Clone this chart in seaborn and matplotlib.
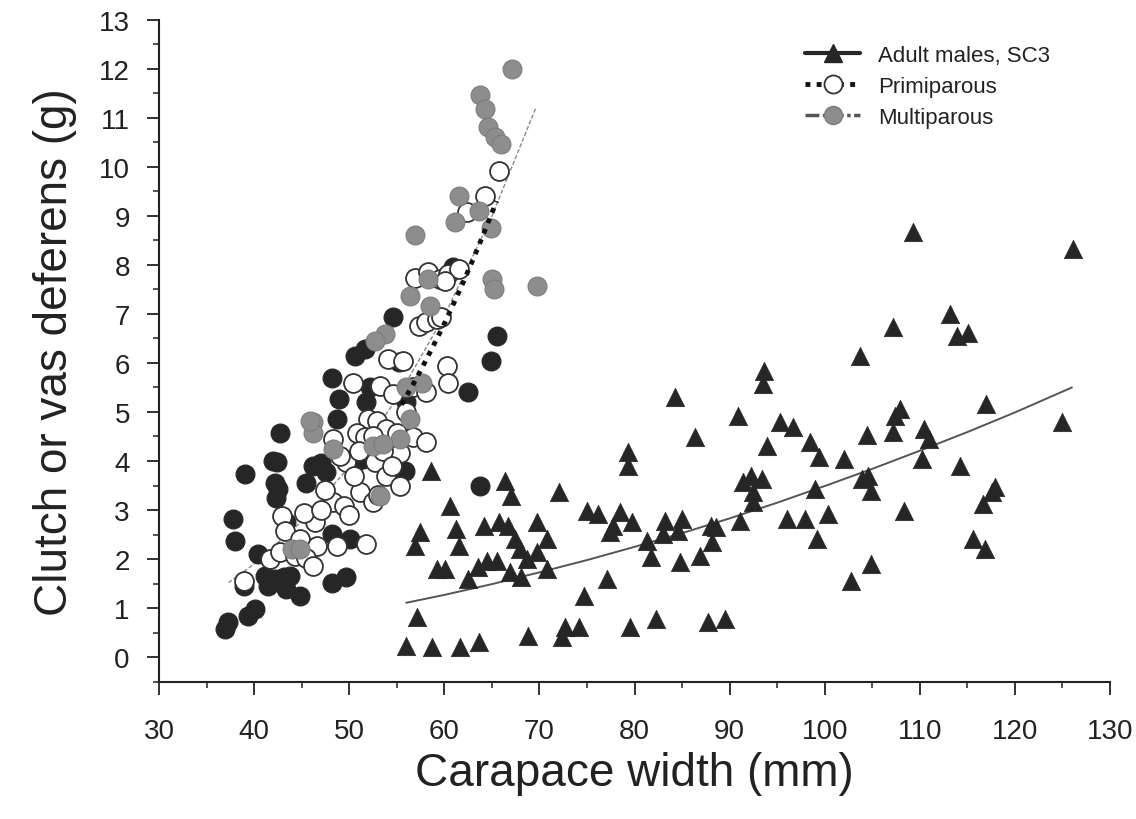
import numpy as np
import pandas as pd
import matplotlib
matplotlib.use("Agg")
import matplotlib.pyplot as plt
from matplotlib.lines import Line2D
from matplotlib.ticker import MultipleLocator
import seaborn as sns

# ---------------- data ----------------
male_cw = [56.0, 57.1, 58.7, 61.7, 63.6, 68.8, 72.7, 72.4, 74.2, 79.5, 82.3, 87.7, 89.5, 74.7, 77.1,
           58.6, 66.4, 67.0, 72.1, 60.6, 57.4, 56.9, 61.2, 61.5, 64.2, 65.75, 66.7, 69.7, 67.4, 68.0,
           70.8, 69.7, 68.7, 70.8, 59.2, 60.1, 62.5, 63.5, 64.5, 65.5, 66.9, 68.1, 75.0, 76.2, 78.5,
           77.7, 79.7, 77.4, 79.3, 79.3, 81.3, 81.7, 83.2, 85.0, 83.0, 84.6, 84.3, 86.4, 84.8, 86.9,
           88.0, 88.6, 88.1, 91.1, 90.9, 92.3, 91.4, 93.4, 92.5, 92.5, 93.6, 93.5, 93.9, 95.3, 96.7,
           96.0, 97.9, 98.5, 99.4, 99.0, 99.2, 100.3, 102.0, 102.8, 103.7, 104.4, 104.6, 103.9, 104.9,
           104.9, 107.2, 107.2, 107.9, 107.4, 108.3, 109.3, 110.2, 110.4, 111.0, 113.2, 113.9, 115.1,
           114.2, 115.6, 116.9, 117.0, 116.6, 117.6, 117.9, 125.0, 126.1]
male_wt = [0.23, 0.82, 0.20, 0.20, 0.31, 0.43, 0.61, 0.41, 0.61, 0.61, 0.78, 0.71, 0.78, 1.25, 1.59,
           3.80, 3.60, 3.29, 3.37, 3.09, 2.55, 2.27, 2.61, 2.27, 2.68, 2.75, 2.68, 2.76, 2.41, 2.20,
           2.41, 2.14, 2.00, 1.79, 1.79, 1.79, 1.59, 1.84, 1.96, 1.96, 1.73, 1.63, 2.98, 2.92, 2.96,
           2.67, 2.75, 2.55, 4.18, 3.90, 2.37, 2.04, 2.78, 2.81, 2.51, 2.58, 5.30, 4.49, 1.94, 2.07,
           2.68, 2.65, 2.35, 2.78, 4.92, 3.70, 3.57, 3.63, 3.37, 3.16, 5.84, 5.57, 4.30, 4.79, 4.69,
           2.81, 2.81, 4.39, 4.08, 3.43, 2.41, 2.92, 4.04, 1.56, 6.14, 4.53, 3.69, 3.63, 3.39,
           1.90, 6.73, 4.59, 5.06, 4.92, 2.98, 8.66, 4.04, 4.65, 4.45, 7.00, 6.55, 6.62,
           3.90, 2.41, 2.20, 5.16, 3.12, 3.37, 3.47, 4.80, 8.32]

other_cw = [64.9, 65.5, 62.5, 48.2, 48.9, 52.2, 51.8, 55.2, 48.7, 42.7, 42.4, 42.0, 39.0, 42.2, 42.5,
            42.3, 45.5, 46.2, 47.6, 50.4, 51.5, 54.3, 55.9, 63.8, 37.8, 38.0, 43.4, 48.2, 50.1, 40.4,
            41.1, 42.2, 43.1, 43.8, 41.5, 43.4, 44.8, 38.9, 48.2, 49.7, 37.3, 36.9, 39.4, 40.1, 60.9,
            54.6, 50.6, 51.7, 56.0, 47.0]
other_wt = [6.04, 6.55, 5.40, 5.70, 5.26, 5.50, 5.20, 6.01, 4.85, 4.58, 3.97, 4.00, 3.73, 3.56, 3.43,
            3.25, 3.56, 3.90, 3.77, 3.90, 4.04, 3.83, 3.80, 3.49, 2.81, 2.37, 2.75, 2.51, 2.41, 2.10,
            1.66, 1.59, 1.63, 1.66, 1.45, 1.39, 1.25, 1.45, 1.52, 1.63, 0.71, 0.57, 0.84, 0.98, 7.95,
            6.93, 6.15, 6.28, 5.20, 3.95]

primi_cw = [65.7, 64.3, 62.4, 56.9, 58.3, 59.5, 60.4, 61.5, 60.1, 57.3, 58.1, 59.2, 59.7,
            54.1, 55.7, 60.3, 60.4, 50.4, 53.2, 54.6, 56.7, 58.1,
            52.0, 52.9, 53.9, 55.0, 50.8, 51.7, 52.5, 48.3, 56.7, 58.1, 54.6, 55.3, 52.7, 49.7, 53.9,
            55.3, 51.1, 52.5, 48.3, 49.4, 46.4, 45.2, 42.9, 43.2, 44.8, 46.6, 48.7, 51.8, 41.7, 42.7,
            44.3, 45.5, 38.9, 46.2, 47.5, 50.5, 49.0, 53.5, 56.0, 51.0, 47.0, 50.0, 53.0, 54.5]
primi_wt = [9.92, 9.41, 9.07, 7.74, 7.85, 7.71, 7.81, 7.91, 7.68, 6.76, 6.83, 6.89, 6.93,
            6.08, 6.04, 5.94, 5.60, 5.60, 5.53, 5.36, 5.50, 5.40,
            4.85, 4.82, 4.65, 4.58, 4.58, 4.48, 4.51, 4.45, 4.48, 4.38, 4.24, 4.17, 3.97, 3.97, 3.70,
            3.49, 3.36, 3.16, 3.16, 3.09, 2.75, 2.95, 2.88, 2.58, 2.41, 2.27, 2.27, 2.30, 2.00, 2.14,
            2.07, 2.03, 1.56, 1.86, 3.40, 3.70, 4.10, 4.20, 5.00, 4.20, 3.00, 2.90, 3.30, 3.90]

multi_cw = [67.1, 63.8, 64.3, 64.6, 65.3, 66.0, 61.5, 61.1, 63.6, 64.9, 56.9, 65.0, 65.2, 69.7,
            58.3, 56.4, 58.5, 53.8, 52.7, 57.6, 56.4, 55.3, 46.2, 46.2, 48.3, 52.5, 53.6, 53.2,
            44.0, 44.8, 56.0, 45.9]
multi_wt = [12.0, 11.46, 11.18, 10.80, 10.60, 10.46, 9.41, 8.87, 9.10, 8.76, 8.61, 7.71, 7.50, 7.57,
            7.71, 7.37, 7.16, 6.59, 6.45, 5.60, 4.85, 4.45, 4.79, 4.58, 4.24, 4.31, 4.34, 3.29,
            2.20, 2.20, 5.50, 4.82]

# fitted curves
male_fit_cw = [56, 60, 65, 70, 75, 80, 85, 90, 95, 100, 105, 110, 115, 120, 126]
male_fit_wt = [1.11, 1.27, 1.49, 1.73, 1.98, 2.25, 2.53, 2.83, 3.15, 3.49, 3.84, 4.21, 4.59, 4.99, 5.50]
multi_fit_cw = [37.3, 40, 45, 50, 55, 60, 65, 69.6]
multi_fit_wt = [1.52, 1.90, 2.77, 3.88, 5.27, 6.96, 8.99, 11.19]
primi_fit_cw = [55.5, 57, 58, 59, 60, 61, 62, 63, 64, 65.5]
primi_fit_wt = [5.15, 5.66, 6.03, 6.41, 6.80, 7.22, 7.65, 8.10, 8.57, 9.30]

legend_labels = ["Adult males, SC3", "Primiparous", "Multiparous"]
x_label = "Carapace width (mm)"
y_label = "Clutch or vas deferens (g)"

# ---------------- styling ----------------
sns.set_style("ticks")
plt.rcParams['font.family'] = ['Liberation Sans', 'DejaVu Sans']

DARK = "#262626"
GREY = "#8d8d8d"

fig = plt.figure(figsize=(11.36, 8.2), dpi=100)
ax = fig.add_axes([0.140, 0.1674, 0.8371, 0.8075])

# fit lines
sns.lineplot(x=multi_fit_cw, y=multi_fit_wt, ax=ax, color="#8a8a8a", lw=1.0,
             linestyle=(0, (3, 1.5)), sort=False, estimator=None, zorder=1)
sns.lineplot(x=male_fit_cw, y=male_fit_wt, ax=ax, color="#555555", lw=1.4,
             sort=False, estimator=None, zorder=1)

# scatter points
kw = dict(ax=ax, legend=False, s=185)
sns.scatterplot(x=other_cw, y=other_wt, marker='o', color=DARK, edgecolor=DARK,
                linewidth=0.8, zorder=2, **kw)
sns.scatterplot(x=primi_cw, y=primi_wt, marker='o', color="white", edgecolor="#333333",
                linewidth=1.3, zorder=3, **kw)
sns.scatterplot(x=multi_cw, y=multi_wt, marker='o', color=GREY, edgecolor="#7c7c7c",
                linewidth=0.8, zorder=4, **kw)
sns.scatterplot(x=male_cw, y=male_wt, marker='^', color=DARK, edgecolor=DARK,
                linewidth=0.5, zorder=4, ax=ax, legend=False, s=175)

sns.lineplot(x=primi_fit_cw, y=primi_fit_wt, ax=ax, color="#111111", lw=3.5,
             linestyle=(0, (1.0, 1.3)), sort=False, estimator=None, zorder=5,
             solid_capstyle='butt', dash_capstyle='butt')

# axes
ax.set_xlim(30, 130)
ax.set_ylim(-0.5, 13)
ax.xaxis.set_major_locator(MultipleLocator(10))
ax.xaxis.set_minor_locator(MultipleLocator(5))
ax.yaxis.set_major_locator(MultipleLocator(1))
ax.yaxis.set_minor_locator(MultipleLocator(0.5))
ax.set_yticks(np.arange(0, 14, 1))
ax.spines['top'].set_visible(False)
ax.spines['right'].set_visible(False)
for sp in ('left', 'bottom'):
    ax.spines[sp].set_linewidth(1.5)
    ax.spines[sp].set_color("#222222")
ax.tick_params(axis='both', which='major', direction='out', length=9, width=1.3,
               color="#222222", labelsize=20, labelcolor="#222222")
ax.tick_params(axis='both', which='minor', direction='out', length=4.5, width=1.1, color="#222222")
ax.tick_params(axis='x', which='major', pad=17)
ax.tick_params(axis='y', which='major', pad=12)

ax.set_xlabel(x_label, fontsize=33, color="#222222", labelpad=5)
ax.set_ylabel(y_label, fontsize=33, color="#222222", labelpad=16)

# legend
handles = [
    Line2D([0], [0], color=DARK, lw=3, marker='^', markersize=13, markerfacecolor=DARK,
           markeredgecolor=DARK),
    Line2D([0], [0], color="#111111", lw=3.5, linestyle=(0, (1.0, 1.3)), marker='o', markersize=13,
           markerfacecolor="white", markeredgecolor="#333333", markeredgewidth=1.3,
           dash_capstyle='butt'),
    Line2D([0], [0], color="#555555", lw=2.5, linestyle=(0, (4, 1, 1, 1)), marker='o',
           markersize=13, markerfacecolor=GREY, markeredgecolor="#7c7c7c"),
]
ax.legend(handles, legend_labels, loc='upper left', bbox_to_anchor=(0.679, 0.962),
          frameon=False, fontsize=16, handlelength=2.5, handletextpad=0.8,
          labelspacing=0.45, borderpad=0, borderaxespad=0, labelcolor="#222222")

fig.savefig("out.png", dpi=100)
